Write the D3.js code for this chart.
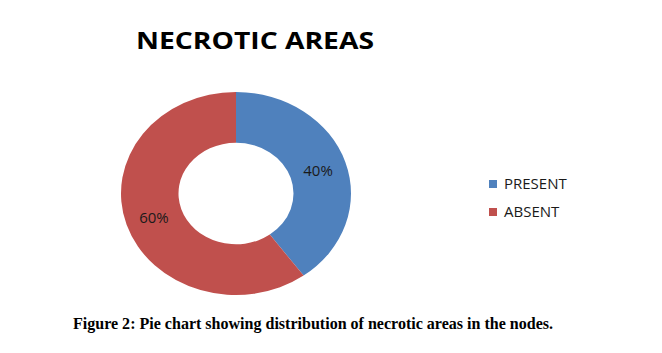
<!DOCTYPE html>
<html>
<head>
<meta charset="utf-8">
<script src="https://cdn.jsdelivr.net/npm/d3@7"></script>
<style>
  body { margin: 0; background: #fff; }
</style>
</head>
<body>
<div id="chart"></div>
<script>
  var width = 662,
      height = 353;

  const categories = ["PRESENT", "ABSENT"];
  const values = [40, 60];
  const colors = ["#4f81bd", "#c0504d"];

  var cx = 236,
      cy = 193.5,
      outerR = 115,
      innerR = 57.5,
      squash = 101.5 / 115;

  var svg = d3.select("#chart").append("svg")
      .attr("width", width)
      .attr("height", height);

  var color = d3.scaleOrdinal()
      .domain(categories)
      .range(colors);

  var pie = d3.pie()
      .sort(null)
      .value(d => d.value);

  var arc = d3.arc()
      .innerRadius(innerR)
      .outerRadius(outerR);

  var data = pie(categories.map((c, i) => ({ name: c, value: values[i] })));
  var total = d3.sum(values);

  // title
  svg.append("text")
      .attr("x", 255)
      .attr("y", 49)
      .attr("text-anchor", "middle")
      .attr("font-family", "Open Sans, sans-serif")
      .attr("font-weight", "bold")
      .attr("font-size", "24px")
      .attr("textLength", 238)
      .attr("lengthAdjust", "spacingAndGlyphs")
      .attr("fill", "#000")
      .text("NECROTIC AREAS");

  // donut, slightly squashed like the original
  svg.append("g")
      .attr("transform", `translate(${cx},${cy}) scale(1,${squash})`)
    .selectAll("path")
      .data(data)
    .join("path")
      .attr("d", arc)
      .attr("fill", d => color(d.data.name));

  svg.append("g")
    .selectAll("text")
      .data(data)
    .join("text")
      .attr("x", d => cx + arc.centroid(d)[0])
      .attr("y", d => cy + arc.centroid(d)[1] * squash + 1)
      .attr("dy", "0.35em")
      .attr("text-anchor", "middle")
      .attr("font-family", "Open Sans, sans-serif")
      .attr("font-size", "15px")
      .attr("fill", "#1a1a1a")
      .text(d => Math.round(d.data.value / total * 100) + "%");

  // legend
  var legend = svg.append("g")
    .selectAll("g")
      .data(categories)
    .join("g")
      .attr("transform", (d, i) => `translate(489,${184 + i * 28})`);

  legend.append("rect")
      .attr("x", 0)
      .attr("y", -4)
      .attr("width", 8)
      .attr("height", 8)
      .attr("fill", d => color(d));

  legend.append("text")
      .attr("x", 15)
      .attr("dy", "0.35em")
      .attr("font-family", "Open Sans, sans-serif")
      .attr("font-size", "15px")
      .attr("fill", "#1a1a1a")
      .text(d => d);

  // caption
  svg.append("text")
      .attr("x", 73)
      .attr("y", 329)
      .attr("font-family", "Liberation Serif, serif")
      .attr("font-weight", "bold")
      .attr("font-size", "17px")
      .attr("textLength", 480)
      .attr("lengthAdjust", "spacingAndGlyphs")
      .attr("fill", "#000")
      .text("Figure 2: Pie chart showing distribution of necrotic areas in the nodes.");
</script>
</body>
</html>
